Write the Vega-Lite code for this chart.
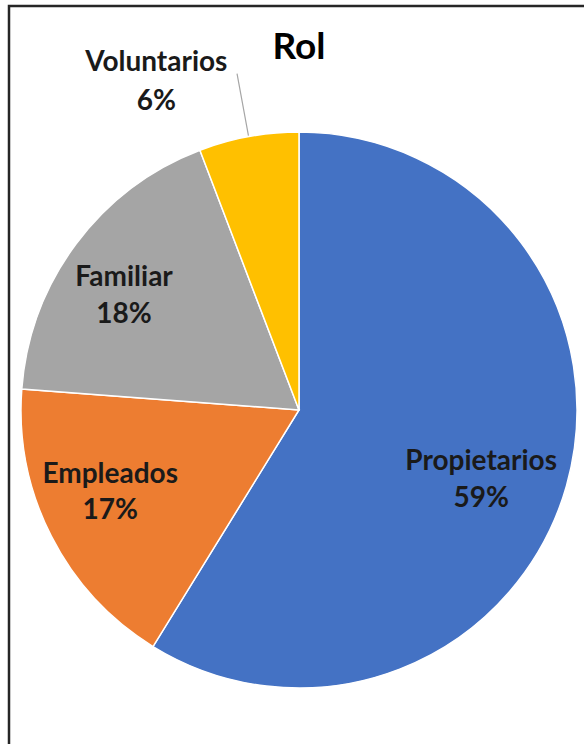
{
  "$schema": "https://vega.github.io/schema/vega-lite/v6.json",
  "autosize": "none",
  "width": 580,
  "height": 808,
  "padding": {"left": 9, "top": 6, "right": 0, "bottom": 0},
  "background": "white",
  "config": {"view": {"stroke": null}},
  "title": {"text": "Rol", "font": "Lato", "fontSize": 37, "fontWeight": "bold", "color": "#000000", "anchor": "middle", "offset": 0, "dy": 62},
  "data": {"values": [
    {"name": "Propietarios", "value": 58.8, "order": 1},
    {"name": "Empleados", "value": 17.4, "order": 2},
    {"name": "Familiar", "value": 18.0, "order": 3},
    {"name": "Voluntarios", "value": 5.8, "order": 4}
  ]},
  "transform": [
    {"calculate": "[datum.name, format(datum.value, '.0f') + '%']", "as": "label"},
    {"window": [{"op": "sum", "field": "value", "as": "cum"}], "sort": [{"field": "order"}], "frame": [null, 0]},
    {"joinaggregate": [{"op": "sum", "field": "value", "as": "total"}]},
    {"calculate": "2 * PI * (datum.cum - datum.value / 2) / datum.total", "as": "mid"}
  ],
  "layer": [
    {
      "mark": {"type": "arc", "outerRadius": 278, "stroke": "white", "strokeWidth": 1.5},
      "encoding": {
        "theta": {"field": "value", "type": "quantitative", "stack": true},
        "order": {"field": "order", "type": "quantitative"},
        "color": {"field": "name", "type": "nominal", "legend": null,
          "scale": {"domain": ["Propietarios", "Empleados", "Familiar", "Voluntarios"], "range": ["#4472C4", "#ED7D31", "#A5A5A5", "#FFC000"]}}
      }
    },
    {
      "transform": [{"filter": "datum.name === 'Propietarios'"}],
      "mark": {"type": "text", "radius": 180, "dx": 9, "dy": 3, "font": "Lato", "fontSize": 28, "fontWeight": "bold", "color": "#1a1a1a", "lineHeight": 37, "baseline": "middle", "align": "center"},
      "encoding": {"theta": {"field": "mid", "type": "quantitative", "scale": null, "stack": null}, "text": {"field": "label"}}
    },
    {
      "transform": [{"filter": "datum.name === 'Empleados'"}],
      "mark": {"type": "text", "radius": 204, "dx": -7, "dy": -28, "font": "Lato", "fontSize": 28, "fontWeight": "bold", "color": "#1a1a1a", "lineHeight": 36, "baseline": "middle", "align": "center"},
      "encoding": {"theta": {"field": "mid", "type": "quantitative", "scale": null, "stack": null}, "text": {"field": "label"}}
    },
    {
      "transform": [{"filter": "datum.name === 'Familiar'"}],
      "mark": {"type": "text", "radius": 207, "dx": -9, "dy": -8, "font": "Lato", "fontSize": 28, "fontWeight": "bold", "color": "#1a1a1a", "lineHeight": 37, "baseline": "middle", "align": "center"},
      "encoding": {"theta": {"field": "mid", "type": "quantitative", "scale": null, "stack": null}, "text": {"field": "label"}}
    },
    {
      "transform": [{"filter": "datum.name === 'Voluntarios'"}],
      "mark": {"type": "text", "radius": 335, "dx": -82, "dy": -18, "font": "Lato", "fontSize": 28, "fontWeight": "bold", "color": "#1a1a1a", "lineHeight": 39, "baseline": "middle", "align": "center"},
      "encoding": {"theta": {"field": "mid", "type": "quantitative", "scale": null, "stack": null}, "text": {"field": "label"}}
    },
    {
      "transform": [{"filter": "datum.name === 'Voluntarios'"}],
      "mark": {"type": "arc", "radius": 342, "radius2": 279, "filled": false, "stroke": "#A6A6A6", "strokeWidth": 1.2},
      "encoding": {
        "theta": {"field": "mid", "type": "quantitative", "scale": null, "stack": null},
        "theta2": {"field": "mid"}
      }
    },
    {
      "data": {"values": [{"frame": "border"}]},
      "transform": [],
      "mark": {"type": "rect", "filled": false, "stroke": "#262626", "strokeWidth": 2.5},
      "encoding": {}
    }
  ],
  "resolve": {"scale": {"theta": "independent"}}
}
